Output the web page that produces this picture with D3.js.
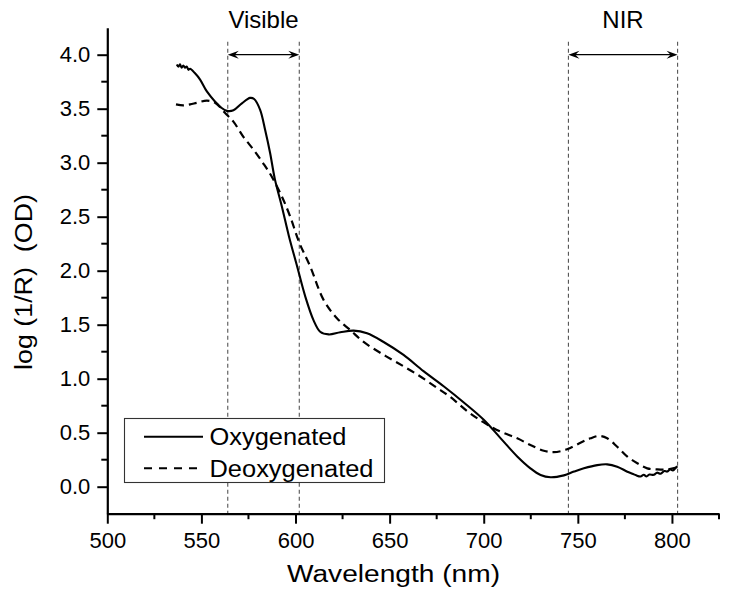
<!DOCTYPE html>
<html>
<head>
<meta charset="utf-8">
<script src="https://cdn.jsdelivr.net/npm/d3@7"></script>
<style>
  html, body { margin: 0; padding: 0; background: #fff; }
  svg { display: block; font-family: "Liberation Sans", Arial, sans-serif; }
</style>
</head>
<body>
<svg id="chart" width="729" height="598"></svg>
<script>
// ---- data ----
const oxyWavelength = [536.9,537.8,538.6,539.5,540.4,541.3,542.2,543.1,544,546.5,549.3,552.9,557.3,560.5,563.5,567,571.5,575.9,578,581.2,583.9,586.5,589,592.8,596.5,600.7,605.2,609.6,613.1,617.6,623.8,630.9,638,646.8,657.4,668,678.7,689.4,700,708.9,717.8,724.8,730.2,735.5,742.6,748,753.2,760.3,765.6,770.9,776.3,779,781,783.3,785,786.5,788,790.4,792,794,796,797.5,799,800.5,802,802.9];
const oxyValue = [3.91,3.89,3.91,3.88,3.90,3.88,3.89,3.86,3.87,3.83,3.77,3.66,3.565,3.51,3.48,3.485,3.55,3.60,3.59,3.49,3.30,3.09,2.85,2.59,2.32,2.05,1.76,1.54,1.435,1.41,1.43,1.445,1.42,1.34,1.22,1.07,0.93,0.78,0.62,0.45,0.28,0.17,0.108,0.087,0.105,0.14,0.17,0.20,0.207,0.185,0.139,0.12,0.105,0.095,0.11,0.095,0.112,0.11,0.13,0.12,0.145,0.14,0.16,0.15,0.175,0.19];

const deoxyWavelength = [536.5,540.4,544,547.6,552.9,557.3,562.6,567,572.3,577.7,583,587.4,592.8,597.2,602,607.8,614.9,622,629.1,636.2,645,653.9,664.6,675.2,682.3,691.2,700,708.9,717.8,724.8,731.9,737.2,744.3,751.4,756.7,761.2,765.6,770.9,776.3,781.6,786.9,792.2,797.5,802.9];
const deoxyValue = [3.54,3.53,3.54,3.555,3.575,3.555,3.46,3.38,3.24,3.12,2.99,2.87,2.685,2.50,2.26,2.04,1.73,1.56,1.45,1.34,1.24,1.15,1.04,0.915,0.83,0.70,0.595,0.51,0.448,0.386,0.333,0.32,0.346,0.407,0.448,0.47,0.448,0.37,0.278,0.217,0.17,0.16,0.16,0.18];

const seriesNames = ["Oxygenated", "Deoxygenated"];
const xTickValues = [500, 550, 600, 650, 700, 750, 800];
const xMinorTicks = [525, 575, 625, 675, 725, 775, 825];
const yTickValues = [0.0, 0.5, 1.0, 1.5, 2.0, 2.5, 3.0, 3.5, 4.0];
const yMinorTicks = [0.25, 0.75, 1.25, 1.75, 2.25, 2.75, 3.25, 3.75];
const regionNames = ["Visible", "NIR"];
const regionStart = [564, 745];
const regionEnd = [602, 803];
const xTitle = "Wavelength (nm)";
const yTitle = "log (1/R)  (OD)";

// ---- layout ----
const svg = d3.select("#chart");
const x = d3.scaleLinear().domain([500, 825]).range([107.3, 719]);
const y = d3.scaleLinear().domain([-0.25, 4.25]).range([513.7, 27.7]);
const FONT = "'Liberation Sans', Arial, sans-serif";

// region guide lines
regionNames.forEach((name, i) => {
  [regionStart[i], regionEnd[i]].forEach(v => {
    svg.append("line")
      .attr("x1", x(v)).attr("x2", x(v))
      .attr("y1", y(4.12)).attr("y2", y(-0.25))
      .attr("stroke", "#555").attr("stroke-width", 1.1)
      .attr("stroke-dasharray", "4,3");
  });
  const ay = y(4.0);
  const x1 = x(regionStart[i]), x2 = x(regionEnd[i]);
  svg.append("line").attr("x1", x1 + 3).attr("x2", x2 - 3)
    .attr("y1", ay).attr("y2", ay)
    .attr("stroke", "#000").attr("stroke-width", 1.2);
  svg.append("path")
    .attr("d", `M${x1},${ay} L${x1 + 11},${ay - 4} L${x1 + 7},${ay} L${x1 + 11},${ay + 4} Z`)
    .attr("fill", "#000");
  svg.append("path")
    .attr("d", `M${x2},${ay} L${x2 - 11},${ay - 4} L${x2 - 7},${ay} L${x2 - 11},${ay + 4} Z`)
    .attr("fill", "#000");
  svg.append("text")
    .attr("x", (x1 + x2) / 2).attr("y", 27.5)
    .attr("text-anchor", "middle")
    .attr("font-family", FONT).attr("font-size", 24)
    .text(name);
});

// curves
const line = d3.line().x(d => x(d[0])).y(d => y(d[1])).curve(d3.curveCatmullRom.alpha(0.5));
const oxy = oxyWavelength.map((w, i) => [w, oxyValue[i]]);
const deoxy = deoxyWavelength.map((w, i) => [w, deoxyValue[i]]);

svg.append("path").datum(deoxy)
  .attr("d", line).attr("fill", "none")
  .attr("stroke", "#000").attr("stroke-width", 2.2)
  .attr("stroke-dasharray", "8,5");
svg.append("path").datum(oxy)
  .attr("d", line).attr("fill", "none")
  .attr("stroke", "#000").attr("stroke-width", 2.1)
  .attr("stroke-linejoin", "round");

// axes
const xAxis = svg.append("g").attr("transform", `translate(0,${y(-0.25)})`)
  .call(d3.axisBottom(x).tickValues(xTickValues).tickSize(10).tickPadding(9).tickSizeOuter(0).tickFormat(d3.format("d")));
const xMinor = svg.append("g").attr("transform", `translate(0,${y(-0.25)})`);
xMinorTicks.forEach(v => {
  xMinor.append("line").attr("x1", x(v)).attr("x2", x(v)).attr("y1", 0).attr("y2", 5.5)
    .attr("stroke", "#000").attr("stroke-width", 2);
});

const yAxis = svg.append("g").attr("transform", `translate(${x(500)},0)`)
  .call(d3.axisLeft(y).tickValues(yTickValues).tickSize(10).tickPadding(7).tickSizeOuter(0).tickFormat(d3.format(".1f")));
const yMinor = svg.append("g").attr("transform", `translate(${x(500)},0)`);
yMinorTicks.forEach(v => {
  yMinor.append("line").attr("x1", 0).attr("x2", -6).attr("y1", y(v)).attr("y2", y(v))
    .attr("stroke", "#000").attr("stroke-width", 2);
});

[xAxis, yAxis].forEach(g => {
  g.select(".domain").attr("stroke", "#000").attr("stroke-width", 2.2);
  g.selectAll(".tick line").attr("stroke", "#000").attr("stroke-width", 2);
  g.selectAll(".tick text").attr("font-family", FONT).attr("font-size", 22).attr("fill", "#000");
});

// axis titles
svg.append("text")
  .attr("x", 393.5).attr("y", 582)
  .attr("text-anchor", "middle")
  .attr("font-family", FONT).attr("font-size", 23.5)
  .attr("textLength", 213).attr("lengthAdjust", "spacingAndGlyphs")
  .text(xTitle);
svg.append("text")
  .attr("transform", "translate(32,282) rotate(-90)")
  .attr("text-anchor", "middle")
  .attr("font-family", FONT).attr("font-size", 23.5)
  .attr("textLength", 176).attr("lengthAdjust", "spacingAndGlyphs")
  .style("white-space", "pre")
  .text(yTitle);

// legend
const lg = svg.append("g");
lg.append("rect")
  .attr("x", 124.5).attr("y", 418.5).attr("width", 260).attr("height", 64)
  .attr("fill", "#fff").attr("stroke", "#333").attr("stroke-width", 1.1);
const legendY = [436.7, 468.3];
const legendBase = [445, 476.7];
const legendLen = [137, 164];
seriesNames.forEach((name, i) => {
  lg.append("line")
    .attr("x1", 144).attr("x2", 203).attr("y1", legendY[i]).attr("y2", legendY[i])
    .attr("stroke", "#000").attr("stroke-width", 2)
    .attr("stroke-dasharray", i === 1 ? "8,7" : null);
  lg.append("text")
    .attr("x", 209.5).attr("y", legendBase[i])
    .attr("font-family", FONT).attr("font-size", 23.5)
    .attr("textLength", legendLen[i]).attr("lengthAdjust", "spacingAndGlyphs")
    .text(name);
});
</script>
</body>
</html>
